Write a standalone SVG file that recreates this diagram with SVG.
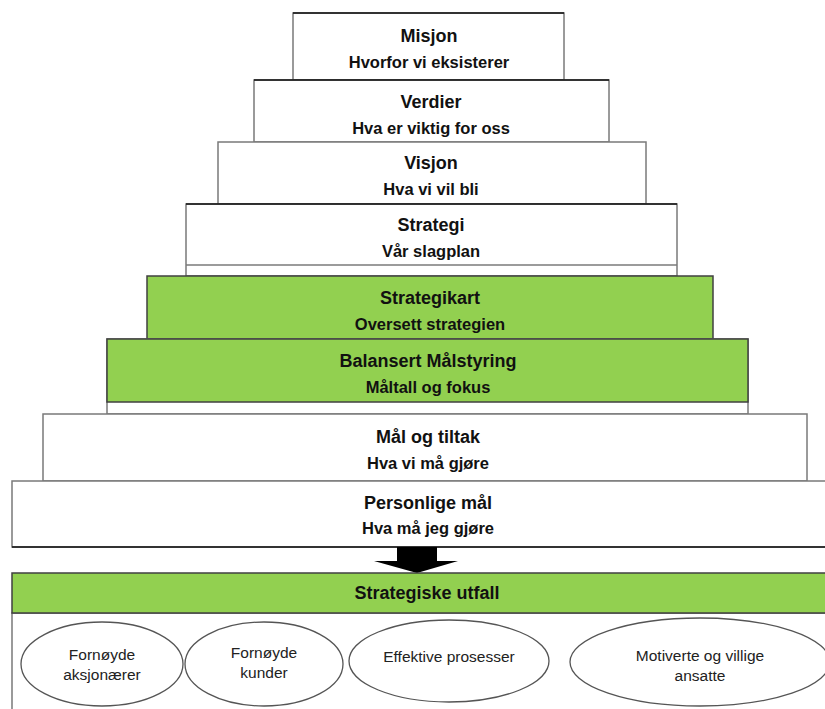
<svg xmlns="http://www.w3.org/2000/svg" width="825" height="709" viewBox="0 0 825 709">
<style>
.w{fill:#ffffff;stroke:#7a7a7a;stroke-width:1.5}
.g{fill:#92d050;stroke:#404040;stroke-width:1.5}
.t{font-family:"Liberation Sans",Arial,sans-serif;font-weight:bold;font-size:18px;fill:#111;text-anchor:middle}
.s{font-family:"Liberation Sans",Arial,sans-serif;font-weight:bold;font-size:16.5px;fill:#111;text-anchor:middle}
.e{fill:#ffffff;stroke:#555;stroke-width:1.3}
.et{font-family:"Liberation Sans",Arial,sans-serif;font-size:15.5px;fill:#222;text-anchor:middle}
.top{stroke:#111;stroke-width:1.5}
</style>
<rect width="825" height="709" fill="#ffffff"/>
<g id="misjon">
<rect class="w" x="293" y="13" width="271" height="67"/>
<line class="top" x1="293" y1="13" x2="564" y2="13"/>
<text class="t" x="429" y="42">Misjon</text>
<text class="s" x="429" y="68">Hvorfor vi eksisterer</text>
</g>
<g id="verdier">
<rect class="w" x="254" y="80" width="355" height="62"/>
<line class="top" x1="254" y1="80" x2="609" y2="80"/>
<text class="t" x="431" y="108">Verdier</text>
<text class="s" x="431" y="134">Hva er viktig for oss</text>
</g>
<g id="visjon">
<rect class="w" x="218" y="142" width="428" height="62"/>
<text class="t" x="431" y="169">Visjon</text>
<text class="s" x="431" y="195">Hva vi vil bli</text>
</g>
<g id="strategi">
<rect class="w" x="186" y="204" width="491" height="72"/>
<line class="top" x1="186" y1="204" x2="677" y2="204"/>
<line x1="186" y1="265" x2="677" y2="265" stroke="#7a7a7a" stroke-width="1.5"/>
<text class="t" x="431" y="231">Strategi</text>
<text class="s" x="431" y="257">Vår slagplan</text>
</g>
<g id="strategikart">
<rect class="g" x="147" y="276" width="566" height="63"/>
<text class="t" x="430" y="304">Strategikart</text>
<text class="s" x="430" y="330">Oversett strategien</text>
</g>
<g id="balansert">
<rect class="w" x="107" y="339" width="641" height="75"/>
<rect class="g" x="107" y="339" width="641" height="63"/>
<text class="t" x="428" y="367">Balansert Målstyring</text>
<text class="s" x="428" y="393">Måltall og fokus</text>
</g>
<g id="maal-og-tiltak">
<rect class="w" x="43" y="414" width="764" height="67"/>
<text class="t" x="428" y="443">Mål og tiltak</text>
<text class="s" x="428" y="469">Hva vi må gjøre</text>
</g>
<g id="personlige-maal">
<rect class="w" x="12" y="481" width="830" height="66"/>
<line class="top" x1="12" y1="547" x2="825" y2="547"/>
<text class="t" x="428" y="509">Personlige mål</text>
<text class="s" x="428" y="534">Hva må jeg gjøre</text>
</g>
<g id="connectors">
<polygon points="397,547 437,547 437,561 458,561 417,573 374,561 397,561" fill="#000"/>
</g>
<g id="strategiske-utfall">
<rect class="w" x="12" y="613" width="830" height="110"/>
<rect class="g" x="12" y="573" width="830" height="40"/>
<text class="t" x="427" y="599">Strategiske utfall</text>
</g>
<g id="fornoyde-aksjonaerer">
<ellipse class="e" cx="102" cy="664" rx="81" ry="42"/>
<text class="et" x="102" y="660">Fornøyde</text>
<text class="et" x="102" y="680">aksjonærer</text>
</g>
<g id="fornoyde-kunder">
<ellipse class="e" cx="264" cy="664" rx="79" ry="42"/>
<text class="et" x="264" y="658">Fornøyde</text>
<text class="et" x="264" y="678">kunder</text>
</g>
<g id="effektive-prosesser">
<ellipse class="e" cx="449" cy="661" rx="100" ry="41"/>
<text class="et" x="449" y="662">Effektive prosesser</text>
</g>
<g id="motiverte-ansatte">
<ellipse class="e" cx="700" cy="662" rx="130" ry="44"/>
<text class="et" x="700" y="661">Motiverte og villige</text>
<text class="et" x="700" y="681">ansatte</text>
</g>
</svg>
